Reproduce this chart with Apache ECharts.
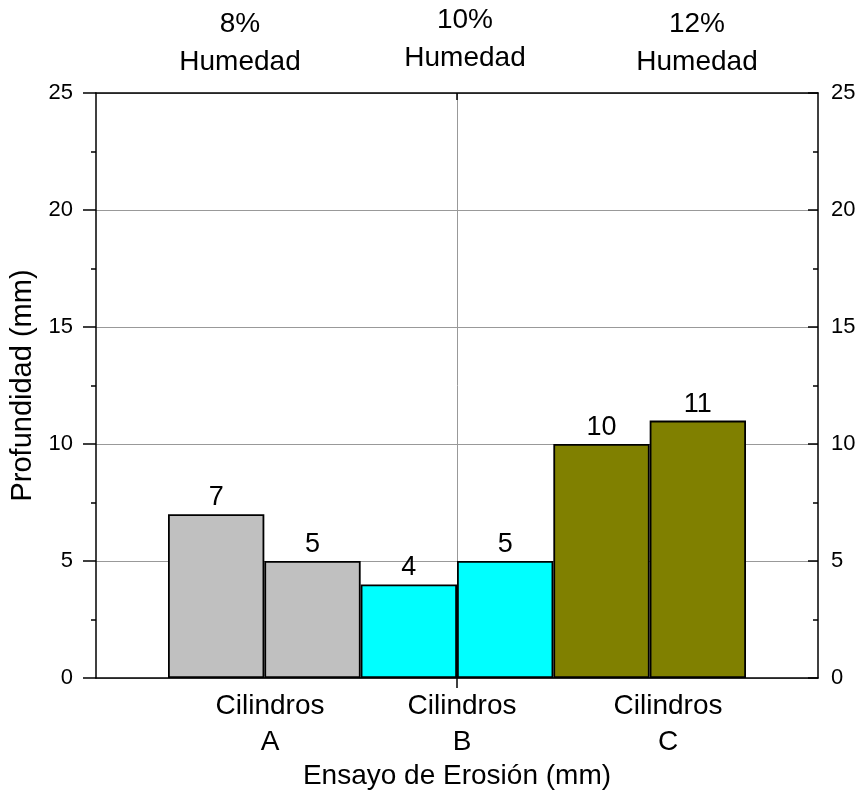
<!DOCTYPE html>
<html>
<head>
<meta charset="utf-8">
<script src="https://cdn.jsdelivr.net/npm/echarts@6/dist/echarts.min.js"></script>
<style>
  html, body { margin: 0; padding: 0; background: #fff; }
  #main { width: 860px; height: 796px; }
</style>
</head>
<body>
<div id="main"></div>
<script>
// data
var barNames = ['A1', 'A2', 'B1', 'B2', 'C1', 'C2'];
var barValues = [7, 5, 4, 5, 10, 11];
var barGroups = [0, 0, 1, 1, 2, 2];
var groupColors = ['#C0C0C0', '#00FFFF', '#808000'];
var topLabels = ['8%\nHumedad', '10%\nHumedad', '12%\nHumedad'];
var bottomLabels = ['Cilindros\nA', 'Cilindros\nB', 'Cilindros\nC'];
var yTicks = [0, 5, 10, 15, 20, 25];

// label placement (pixels)
var topPos = [[240, 5], [465, 1], [697, 5]];
var bottomPos = [[270, 688], [462, 688], [668, 688]];

var FONT = '"Liberation Sans", Arial, sans-serif';

var chart = echarts.init(document.getElementById('main'));

var barData = barValues.map(function (v, i) {
  return {
    value: v,
    itemStyle: { color: groupColors[barGroups[i]] }
  };
});

var graphics = [];
topLabels.forEach(function (t, i) {
  graphics.push({
    type: 'text', x: topPos[i][0], y: topPos[i][1],
    style: { text: t, align: 'center', verticalAlign: 'top', font: '28px ' + FONT, fill: '#000', lineHeight: 38 }
  });
});
bottomLabels.forEach(function (t, i) {
  graphics.push({
    type: 'text', x: bottomPos[i][0], y: bottomPos[i][1],
    style: { text: t, align: 'center', verticalAlign: 'top', font: '28px ' + FONT, fill: '#000', lineHeight: 36 }
  });
});

var option = {
  backgroundColor: '#fff',
  animation: false,
  textStyle: { fontFamily: FONT },
  grid: [
    { left: 96, right: 42, top: 93, bottom: 118 },
    { left: 168, right: 114, top: 93, bottom: 118 }
  ],
  xAxis: [
    {
      gridIndex: 0, type: 'value', min: 0, max: 2, interval: 1, position: 'bottom',
      name: 'Ensayo de Erosión (mm)', nameLocation: 'middle', nameGap: 84,
      nameTextStyle: { fontSize: 28, color: '#000', fontFamily: FONT },
      axisLine: { show: true, lineStyle: { color: '#000', width: 1.5 } },
      axisTick: { show: true, customValues: [1], length: 10, lineStyle: { color: '#000', width: 1.5 } },
      axisLabel: { show: false },
      splitLine: { show: true, lineStyle: { color: '#999', width: 1 } }
    },
    {
      gridIndex: 0, type: 'value', min: 0, max: 2, interval: 1, position: 'top',
      axisLine: { show: true, onZero: false, lineStyle: { color: '#000', width: 1.5 } },
      axisTick: { show: true, inside: true, customValues: [1], length: 7, lineStyle: { color: '#000', width: 1.5 } },
      axisLabel: { show: false },
      splitLine: { show: false }
    },
    {
      gridIndex: 1, type: 'category', data: barNames, show: false
    }
  ],
  yAxis: [
    {
      gridIndex: 0, type: 'value', min: 0, max: 25, interval: 5, position: 'left',
      name: 'Profundidad (mm)', nameLocation: 'middle', nameGap: 59,
      nameTextStyle: { fontSize: 29, color: '#000', fontFamily: FONT },
      axisLine: { show: true, lineStyle: { color: '#000', width: 1.5 } },
      axisTick: { show: true, length: 13, lineStyle: { color: '#000', width: 1.5 } },
      minorTick: { show: true, splitNumber: 2, length: 5, lineStyle: { color: '#000', width: 1.5 } },
      axisLabel: { fontSize: 22, color: '#000', margin: 23, fontFamily: FONT,
        formatter: function (v) { return yTicks.indexOf(v) >= 0 ? String(v) : ''; } },
      splitLine: { show: true, lineStyle: { color: '#999', width: 1 } }
    },
    {
      gridIndex: 0, type: 'value', min: 0, max: 25, interval: 5, position: 'right',
      axisLine: { show: true, onZero: false, lineStyle: { color: '#000', width: 1.5 } },
      axisTick: { show: true, inside: true, length: 10, lineStyle: { color: '#000', width: 1.5 } },
      minorTick: { show: true, splitNumber: 2, length: 5, lineStyle: { color: '#000', width: 1.5 } },
      axisLabel: { fontSize: 22, color: '#000', margin: 13, fontFamily: FONT },
      splitLine: { show: false }
    },
    {
      gridIndex: 1, type: 'value', min: 0, max: 25, show: false
    }
  ],
  series: [
    {
      type: 'bar', xAxisIndex: 2, yAxisIndex: 2,
      barCategoryGap: '0%',
      data: barData,
      itemStyle: { borderColor: '#000', borderWidth: 1.8 },
      label: { show: true, position: 'top', distance: 3, fontSize: 27, color: '#000', fontFamily: FONT },
      z: 3
    }
  ],
  graphic: graphics
};

chart.setOption(option);
</script>
</body>
</html>
